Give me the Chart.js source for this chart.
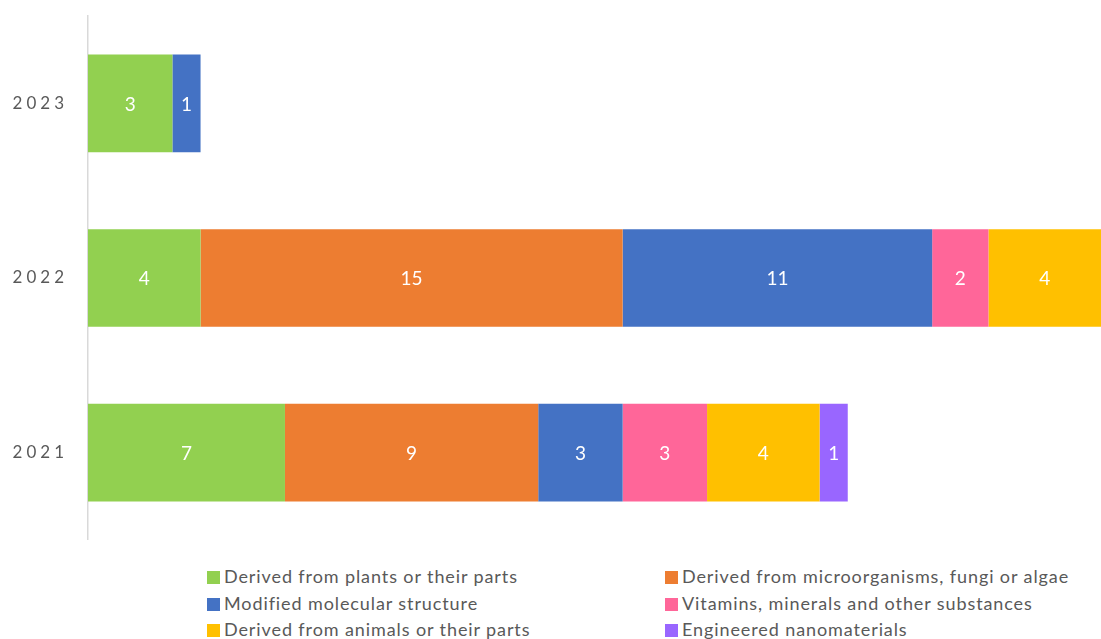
<!DOCTYPE html>
<html>
<head>
<meta charset="utf-8">
<script src="https://cdn.jsdelivr.net/npm/chart.js@4.4.1/dist/chart.umd.min.js"></script>
<style>
  html, body { margin: 0; padding: 0; background: #fff; }
  #wrap { position: relative; width: 1101px; height: 639px; overflow: hidden; }
  #box { position: absolute; left: 0; top: -6px; width: 1101px; height: 568px; }
  #legend { position: absolute; left: 0; top: 563px; width: 1101px; font-family: Lato, "Open Sans", sans-serif;
            font-size: 18px; color: #595959; letter-spacing: 0.9px; }
  .item { position: absolute; height: 26px; line-height: 26px; white-space: nowrap; }
  .item span.sw { display: inline-block; width: 13px; height: 13px; margin-right: 4px; vertical-align: -1px; }
</style>
</head>
<body>
<div id="wrap">
  <div id="box"><canvas id="chart"></canvas></div>
  <div id="legend"></div>
</div>
<script>
// categories (top to bottom)
var years = ['2023', '2022', '2021'];

// series
var seriesNames = [
  'Derived from plants or their parts',
  'Derived from microorganisms, fungi or algae',
  'Modified molecular structure',
  'Vitamins, minerals and other substances',
  'Derived from animals or their parts',
  'Engineered nanomaterials'
];
var plants = [3, 4, 7];
var microorganisms = [null, 15, 9];
var modified = [1, 11, 3];
var vitamins = [null, 2, 3];
var animals = [null, 4, 4];
var nano = [null, null, 1];

var colors = ['#92D050', '#ED7D31', '#4472C4', '#FF6699', '#FFC000', '#9966FF'];

var allData = [plants, microorganisms, modified, vitamins, animals, nano];

var datasets = allData.map(function (d, i) {
  return {
    label: seriesNames[i],
    data: d,
    backgroundColor: colors[i],
    borderWidth: 0,
    barPercentage: 1,
    categoryPercentage: 0.56
  };
});

// white numbers in the middle of each bar piece
var barLabels = {
  id: 'barLabels',
  afterDatasetsDraw: function (chart) {
    var ctx = chart.ctx;
    ctx.save();
    ctx.letterSpacing = '0px';
    ctx.fillStyle = '#fff';
    ctx.font = '19px Lato, "Open Sans", sans-serif';
    ctx.textAlign = 'center';
    ctx.textBaseline = 'middle';
    chart.data.datasets.forEach(function (ds, i) {
      chart.getDatasetMeta(i).data.forEach(function (bar, j) {
        var v = ds.data[j];
        if (v == null) return;
        ctx.fillText(String(v), (bar.x + bar.base) / 2, bar.y + 1);
      });
    });
    ctx.restore();
  }
};

// spaced out year labels
var spacing = {
  id: 'spacing',
  beforeDraw: function (chart) { chart.ctx.letterSpacing = '4px'; }
};

var ctx = document.getElementById('chart').getContext('2d');
var chart = new Chart(ctx, {
  type: 'bar',
  data: { labels: years, datasets: datasets },
  plugins: [spacing, barLabels],
  options: {
    indexAxis: 'y',
    responsive: true,
    maintainAspectRatio: false,
    animation: false,
    layout: { padding: { top: -11, bottom: 8, left: 0, right: 0 } },
    plugins: { legend: { display: false }, tooltip: { enabled: false } },
    scales: {
      x: { stacked: true, display: false, min: 0, max: 36 },
      y: {
        stacked: true,
        grid: { display: false },
        border: { display: true, color: '#D9D9D9', width: 1.5 },
        ticks: { color: '#595959', font: { family: 'Lato, "Open Sans", sans-serif', size: 17 }, padding: 12 },
        afterFit: function (s) { s.width = 88; }
      }
    }
  }
});

// html legend, two columns
var legend = document.getElementById('legend');
var colX = [207, 665];
seriesNames.forEach(function (name, i) {
  var el = document.createElement('div');
  el.className = 'item';
  el.style.left = colX[i % 2] + 'px';
  el.style.top = (Math.floor(i / 2) * 26.5) + 'px';
  el.innerHTML = '<span class="sw" style="background:' + colors[i] + '"></span>' + name;
  legend.appendChild(el);
});
</script>
</body>
</html>
